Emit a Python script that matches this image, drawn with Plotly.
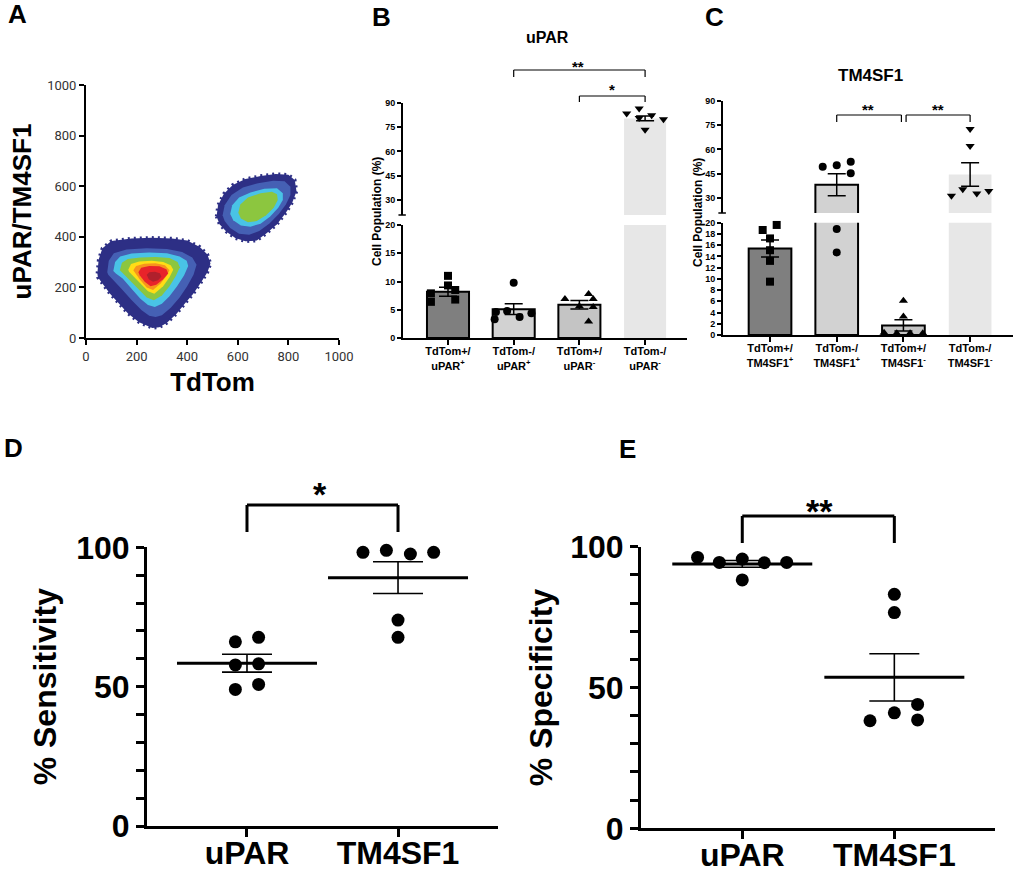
import plotly.graph_objects as go

FIG_W, FIG_H = 1020, 879
FONT = "Arial, Liberation Sans, Helvetica, sans-serif"


def fx(px):
    return px / FIG_W


def fy(py):
    return 1 - py / FIG_H


# ---------------- Panel A : density contours (TdTom vs uPAR/TM4SF1) ----------------
a_ticks = [0, 200, 400, 600, 800, 1000]

# lower-left population, contour outlines (outer -> inner)
p1_navy_x = [45, 50, 65, 100, 180, 260, 340, 400, 450, 480, 492, 480, 455, 424, 390, 358, 320, 290, 262, 235, 210, 167, 130, 95, 65, 47]
p1_navy_y = [255, 310, 355, 383, 393, 396, 393, 385, 360, 330, 294, 260, 220, 175, 135, 96, 60, 42, 40, 50, 62, 96, 135, 175, 215, 240]
p1_blue_x = [84, 90, 110, 160, 240, 320, 380, 420, 437, 425, 400, 370, 335, 300, 275, 250, 220, 180, 140, 105, 88]
p1_blue_y = [260, 305, 335, 350, 355, 352, 340, 318, 290, 250, 205, 160, 120, 90, 83, 88, 110, 150, 195, 235, 250]
p1_cyan_x = [108, 115, 135, 180, 250, 320, 370, 398, 404, 388, 360, 330, 300, 272, 245, 215, 180, 145, 118]
p1_cyan_y = [265, 300, 322, 334, 338, 335, 322, 305, 285, 248, 205, 165, 135, 123, 130, 155, 195, 235, 255]
p1_green_x = [134, 142, 165, 215, 275, 330, 362, 371, 355, 330, 300, 268, 240, 210, 175, 145]
p1_green_y = [268, 297, 312, 318, 320, 316, 300, 280, 245, 205, 168, 149, 160, 190, 225, 255]
p1_yellow_x = [167, 178, 210, 260, 305, 335, 345, 330, 305, 270, 245, 215, 185, 170]
p1_yellow_y = [270, 292, 302, 305, 300, 288, 270, 240, 205, 175, 185, 215, 245, 262]
p1_orange_x = [187, 198, 230, 275, 312, 330, 318, 295, 265, 240, 212, 192]
p1_orange_y = [268, 285, 293, 295, 288, 268, 245, 215, 190, 200, 232, 258]
p1_red_x = [207, 218, 250, 290, 318, 325, 305, 278, 255, 232, 212]
p1_red_y = [260, 278, 285, 284, 272, 255, 232, 210, 205, 222, 248]
p1_dred_x = [240, 250, 272, 292, 298, 285, 265, 248]
p1_dred_y = [250, 260, 262, 256, 242, 228, 222, 232]

# upper-right population
p2_navy_x = [516, 522, 545, 580, 630, 690, 750, 800, 825, 832, 815, 790, 755, 715, 675, 630, 590, 555, 528]
p2_navy_y = [480, 525, 570, 605, 628, 640, 648, 645, 625, 580, 535, 495, 450, 415, 385, 382, 395, 420, 450]
p2_blue_x = [540, 548, 575, 620, 680, 740, 785, 808, 808, 790, 762, 725, 685, 645, 605, 570, 548]
p2_blue_y = [485, 525, 565, 595, 612, 622, 620, 598, 565, 528, 490, 453, 423, 408, 412, 435, 462]
p2_cyan_x = [570, 578, 605, 650, 705, 755, 778, 778, 760, 728, 690, 650, 612, 582]
p2_cyan_y = [490, 525, 555, 575, 590, 592, 572, 545, 515, 480, 452, 440, 445, 465]
p2_green_x = [602, 610, 640, 690, 735, 755, 758, 742, 712, 675, 640, 612]
p2_green_y = [495, 528, 555, 572, 578, 568, 545, 515, 485, 462, 458, 472]

# ---------------- Panel B : uPAR ----------------
b_labels = ["TdTom+/<br>uPAR<sup>+</sup>", "TdTom-/<br>uPAR<sup>+</sup>",
            "TdTom+/<br>uPAR<sup>-</sup>", "TdTom-/<br>uPAR<sup>-</sup>"]
b_means = [8.2, 5.1, 5.9, 80.3]
b_sems = [0.8, 0.95, 0.75, 1.5]
b_pts_1 = [11.0, 9.3, 8.5, 7.9, 6.8, 6.4]
b_pts_2 = [9.8, 4.8, 4.6, 4.4, 3.7, 3.3]
b_pts_3 = [7.8, 6.9, 6.9, 5.6, 5.5, 2.9]
b_pts_4 = [86.4, 83.3, 82.3, 80.5, 79.8, 73.3]
b_lower_ticks = [0, 5, 10, 15, 20]

# ---------------- Panel C : TM4SF1 ----------------
c_labels = ["TdTom+/<br>TM4SF1<sup>+</sup>", "TdTom-/<br>TM4SF1<sup>+</sup>",
            "TdTom+/<br>TM4SF1<sup>-</sup>", "TdTom-/<br>TM4SF1<sup>-</sup>"]
c_means = [15.4, 38.0, 1.7, 44.4]
c_sems = [1.5, 6.8, 1.0, 7.3]
c_pts_1 = [19.6, 18.7, 17.2, 15.1, 13.2, 9.5]
c_pts_2 = [52.3, 50.2, 49.2, 45.1, 18.9, 14.7]
c_pts_3 = [6.1, 3.3, 0.4, 0.3, 0.3, 0.3]
c_pts_4 = [72.6, 62.0, 35.3, 34.1, 32.6, 31.2]
c_lower_ticks = [0, 2, 4, 6, 8, 10, 12, 14, 16, 18, 20]

upper_ticks = [30, 45, 60, 75, 90]

# ---------------- Panel D / E ----------------
de_groups = ["uPAR", "TM4SF1"]
d_upar = [66.1, 67.7, 57.8, 58.2, 49.0, 50.8]
d_tm4 = [98.2, 98.9, 97.6, 98.2, 73.9, 67.7]
d_means = [58.4, 89.1]
d_sems = [3.2, 5.7]
e_upar = [96.2, 94.4, 95.6, 94.3, 94.4, 88.2]
e_tm4 = [83.1, 76.6, 38.2, 41.0, 44.0, 38.5]
e_means = [93.9, 53.6]
e_sems = [1.2, 8.4]
de_ticks = [0, 50, 100]

# ---------------- layout-only jitter offsets (positions) ----------------
b_jit = [[0, 0, 0.11, -0.26, 0.11, -0.26],
         [0, -0.1, -0.27, 0.27, 0.09, -0.29],
         [0.14, -0.22, 0.21, 0.0, 0.21, 0.14],
         [-0.09, -0.28, 0.1, -0.09, 0.28, 0.0]]
c_jit = [[0.1, -0.11, 0, 0, 0, 0],
         [0.21, 0, -0.21, 0.21, 0, 0],
         [0, 0, -0.29, -0.1, 0.1, 0.29],
         [0, 0, -0.11, 0.28, 0.1, -0.28]]
d_jit = [[-0.077, 0.077, -0.077, 0.077, -0.077, 0.077],
         [-0.232, -0.077, 0.082, 0.236, 0, 0]]
e_jit = [[-0.294, -0.151, 0, 0.145, 0.292, 0],
         [0, 0, -0.16, 0, 0.153, 0.153]]

NAVY = "#2d2f85"
BLUE = "#4560b4"
CYAN = "#49c3e6"
GREEN = "#8cc63f"
YELLOW = "#ffdd15"
ORANGE = "#f7941d"
RED = "#e8232a"
DRED = "#b0202c"

fig = go.Figure()

# ---- Panel A traces
def poly(xs, ys, color, dotted=False):
    line = dict(color=color, width=0)
    if dotted:
        line = dict(color=color, width=3.5, dash="2px,4px")
    fig.add_trace(go.Scatter(x=xs + xs[:1], y=ys + ys[:1], mode="lines", fill="toself",
                             fillcolor=color, line=line, xaxis="x", yaxis="y",
                             hoverinfo="skip", showlegend=False))

poly(p1_navy_x, p1_navy_y, NAVY, dotted=True)
poly(p1_blue_x, p1_blue_y, BLUE)
poly(p1_cyan_x, p1_cyan_y, CYAN)
poly(p1_green_x, p1_green_y, GREEN)
poly(p1_yellow_x, p1_yellow_y, YELLOW)
poly(p1_orange_x, p1_orange_y, ORANGE)
poly(p1_red_x, p1_red_y, RED)
poly(p1_dred_x, p1_dred_y, DRED)
poly(p2_navy_x, p2_navy_y, NAVY, dotted=True)
poly(p2_blue_x, p2_blue_y, BLUE)
poly(p2_cyan_x, p2_cyan_y, CYAN)
poly(p2_green_x, p2_green_y, GREEN)

# ---- Panels B & C (broken axes: lower + upper subplots)
bar_colors = ["#7f7f7f", "#d2d2d2", "#c4c4c4", "#e7e7e7"]
bar_lines = [2, 2, 2, 0]
symbols = ["square", "circle", "triangle-up", "triangle-down"]


def broken_bar(means, sems, pts_list, jit, lower, upper, split):
    for (xa, ya), keep in ((lower, lambda v: v <= split), (upper, lambda v: v > split)):
        fig.add_trace(go.Bar(x=list(range(len(means))), y=means, width=0.64,
                             marker=dict(color=bar_colors, line=dict(color="black", width=bar_lines)),
                             error_y=dict(type="data", array=sems, color="black", thickness=1.5, width=9),
                             xaxis=xa, yaxis=ya, showlegend=False, hoverinfo="skip"))
        for i, pts in enumerate(pts_list):
            xs = [i + j for j, v in zip(jit[i], pts) if keep(v)]
            ys = [v for v in pts if keep(v)]
            if not ys:
                continue
            fig.add_trace(go.Scatter(x=xs, y=ys, mode="markers", cliponaxis=False,
                                     marker=dict(symbol=symbols[i], size=8, color="black"),
                                     xaxis=xa, yaxis=ya, showlegend=False, hoverinfo="skip"))


broken_bar(b_means, b_sems, [b_pts_1, b_pts_2, b_pts_3, b_pts_4], b_jit, ("x2", "y2"), ("x3", "y3"), 20.5)
broken_bar(c_means, c_sems, [c_pts_1, c_pts_2, c_pts_3, c_pts_4], c_jit, ("x4", "y4"), ("x5", "y5"), 20.5)

# ---- Panels D & E (scatter dot plots with mean +/- SEM)
def dotplot(groups_pts, jit, means, sems, xa, ya):
    for i, pts in enumerate(groups_pts):
        fig.add_trace(go.Scatter(x=[i + j for j in jit[i]], y=pts, mode="markers",
                                 marker=dict(size=13, color="black"), cliponaxis=False,
                                 xaxis=xa, yaxis=ya, showlegend=False, hoverinfo="skip"))
    fig.add_trace(go.Scatter(x=list(range(len(means))), y=means, mode="markers",
                             marker=dict(symbol="line-ew", size=100, line=dict(color="black", width=3)),
                             error_y=dict(type="data", array=sems, color="black", thickness=1.6, width=25),
                             cliponaxis=False, xaxis=xa, yaxis=ya, showlegend=False, hoverinfo="skip"))


dotplot([d_upar, d_tm4], d_jit, d_means, d_sems, "x6", "y6")
dotplot([e_upar, e_tm4], e_jit, e_means, e_sems, "x7", "y7")

# ---------------- axes ----------------
base_ax = dict(showgrid=False, zeroline=False, showline=True, linecolor="black",
               ticks="outside", tickcolor="black", automargin=False)
small_bold = dict(family=FONT, size=9, color="black", weight="bold")
lbl_bold = dict(family=FONT, size=11, color="black", weight="bold")
big_bold = dict(family=FONT, size=32, color="black", weight="bold")
de_minor = dict(dtick=10, ticks="outside", ticklen=8, tickwidth=2.5, tickcolor="black", showgrid=False)

layout = dict(
    template="none",
    width=FIG_W, height=FIG_H, margin=dict(l=0, r=0, t=0, b=0, pad=0, autoexpand=False),
    paper_bgcolor="white", plot_bgcolor="white", showlegend=False,
    font=dict(family=FONT, color="black"),
    # A
    xaxis=dict(base_ax, domain=[fx(86), fx(339)], range=[0, 1000], tickvals=a_ticks, linewidth=2,
               ticklen=5, tickwidth=1.5, anchor="y",
               tickfont=dict(family="Roboto, Arial", size=13, color="#333333"),
               title=dict(text="<b>TdTom</b>", font=dict(family=FONT, size=26, color="black"), standoff=10)),
    yaxis=dict(base_ax, domain=[fy(338), fy(85)], range=[0, 1000], tickvals=a_ticks, linewidth=2,
               ticklen=5, tickwidth=1.5, anchor="x",
               tickfont=dict(family="Roboto, Arial", size=13, color="#333333"),
               title=dict(text="<b>uPAR/TM4SF1</b>", font=dict(family=FONT, size=26, color="black"), standoff=8)),
    # B lower / upper
    xaxis2=dict(base_ax, domain=[fx(403), fx(687)], range=[-0.685, 3.638], tickvals=[0, 1, 2, 3],
                ticktext=b_labels, linewidth=2, ticklen=5, tickwidth=1.5, anchor="y2", tickfont=lbl_bold,
                ticklabelstandoff=-3),
    yaxis2=dict(base_ax, domain=[fy(338), fy(225)], range=[0, 20], tickvals=b_lower_ticks,
                linewidth=2, ticklen=4, tickwidth=1.5, anchor="x2", tickfont=small_bold),
    xaxis3=dict(domain=[fx(403), fx(687)], range=[-0.685, 3.638], visible=False, anchor="y3"),
    yaxis3=dict(base_ax, domain=[fy(215), fy(102.7)], range=[20.75, 90], tickvals=upper_ticks,
                linewidth=2, ticklen=4, tickwidth=1.5, anchor="x3", tickfont=small_bold),
    # C lower / upper
    xaxis4=dict(base_ax, domain=[fx(723), fx(1013)], range=[-0.705, 3.643], tickvals=[0, 1, 2, 3],
                ticktext=c_labels, linewidth=2, ticklen=5, tickwidth=1.5, anchor="y4", tickfont=lbl_bold,
                ticklabelstandoff=-3),
    yaxis4=dict(base_ax, domain=[fy(335), fy(222.7)], range=[0, 20], tickvals=c_lower_ticks,
                linewidth=2, ticklen=4, tickwidth=1.5, anchor="x4", tickfont=small_bold),
    xaxis5=dict(domain=[fx(723), fx(1013)], range=[-0.705, 3.643], visible=False, anchor="y5"),
    yaxis5=dict(base_ax, domain=[fy(213), fy(101)], range=[20.5, 90], tickvals=upper_ticks,
                linewidth=2, ticklen=4, tickwidth=1.5, anchor="x5", tickfont=small_bold),
    # D
    xaxis6=dict(base_ax, domain=[fx(146.7), fx(498)], range=[-0.664, 1.662], tickvals=[0, 1],
                ticktext=de_groups, linewidth=2.5, ticklen=8, tickwidth=2.5, anchor="y6", tickfont=big_bold,
                ticklabelstandoff=-11),
    yaxis6=dict(base_ax, domain=[fy(826), fy(547.3)], range=[0, 100], tickvals=de_ticks, minor=de_minor,
                linewidth=2.5, ticklen=8, tickwidth=2.5, anchor="x6", tickfont=big_bold,
                title=dict(text="<b>% Sensitivity</b>", font=dict(family=FONT, size=32, color="black"), standoff=10)),
    # E
    xaxis7=dict(base_ax, domain=[fx(640.7), fx(995)], range=[-0.668, 1.662], tickvals=[0, 1],
                ticktext=de_groups, linewidth=2.5, ticklen=8, tickwidth=2.5, anchor="y7", tickfont=big_bold,
                ticklabelstandoff=-11),
    yaxis7=dict(base_ax, domain=[fy(828.3), fy(546.7)], range=[0, 100], tickvals=de_ticks, minor=de_minor,
                linewidth=2.5, ticklen=8, tickwidth=2.5, anchor="x7", tickfont=big_bold,
                title=dict(text="<b>% Specificity</b>", font=dict(family=FONT, size=32, color="black"), standoff=8)),
)
fig.update_layout(**layout)

# ---------------- brackets ----------------
def bracket(xref, x0, x1, y_top, y_leg0, y_leg1, width):
    kw = dict(type="line", xref=xref, yref="paper", line=dict(color="black", width=width))
    fig.add_shape(x0=x0, x1=x1, y0=fy(y_top), y1=fy(y_top), **kw)
    fig.add_shape(x0=x0, x1=x0, y0=fy(y_top), y1=fy(y_leg0), **kw)
    fig.add_shape(x0=x1, x1=x1, y0=fy(y_top), y1=fy(y_leg1), **kw)


bracket("x2", 1, 3, 70, 77, 77, 1.2)
bracket("x2", 2, 3, 96, 102, 102, 1.2)
bracket("x4", 1.0, 1.97, 115, 122, 122, 1.2)
bracket("x4", 2.04, 3.0, 115, 122, 122, 1.2)
bracket("x6", 0, 1, 505, 532, 532, 3)
bracket("x7", 0, 1, 516, 543, 543, 3)

# axis-break marks at the bottom of the upper y-axis segments
for xd, py in (("x3 domain", 215), ("x5 domain", 213)):
    fig.add_shape(type="line", xref=xd, yref="paper", x0=-0.016, x1=0.01, y0=fy(py), y1=fy(py),
                  line=dict(color="black", width=1.5))

# ---------------- annotations ----------------
def ann(text, x, y, size, bold=True, angle=0):
    fig.add_annotation(text=f"<b>{text}</b>" if bold else text, x=fx(x), y=fy(y), xref="paper", yref="paper",
                       showarrow=False, textangle=angle, xanchor="center", yanchor="middle",
                       font=dict(family=FONT, size=size, color="black"))


for letter, lx, ly in [("A", 17, 14), ("B", 381, 17), ("C", 714, 17), ("D", 13, 448), ("E", 627, 449)]:
    ann(letter, lx, ly, 26)

ann("uPAR", 547, 37, 16)
ann("TM4SF1", 870, 75, 17)
ann("Cell Population (%)", 377, 212, 12, angle=-90)
ann("Cell Population (%)", 698, 213, 12, angle=-90)
ann("**", 578, 66, 15)
ann("*", 612, 90, 15)
ann("**", 868, 109, 15)
ann("**", 938, 109, 15)
ann("*", 320, 494, 34)
ann("**", 819, 511, 34)

fig.write_html("out.html")
